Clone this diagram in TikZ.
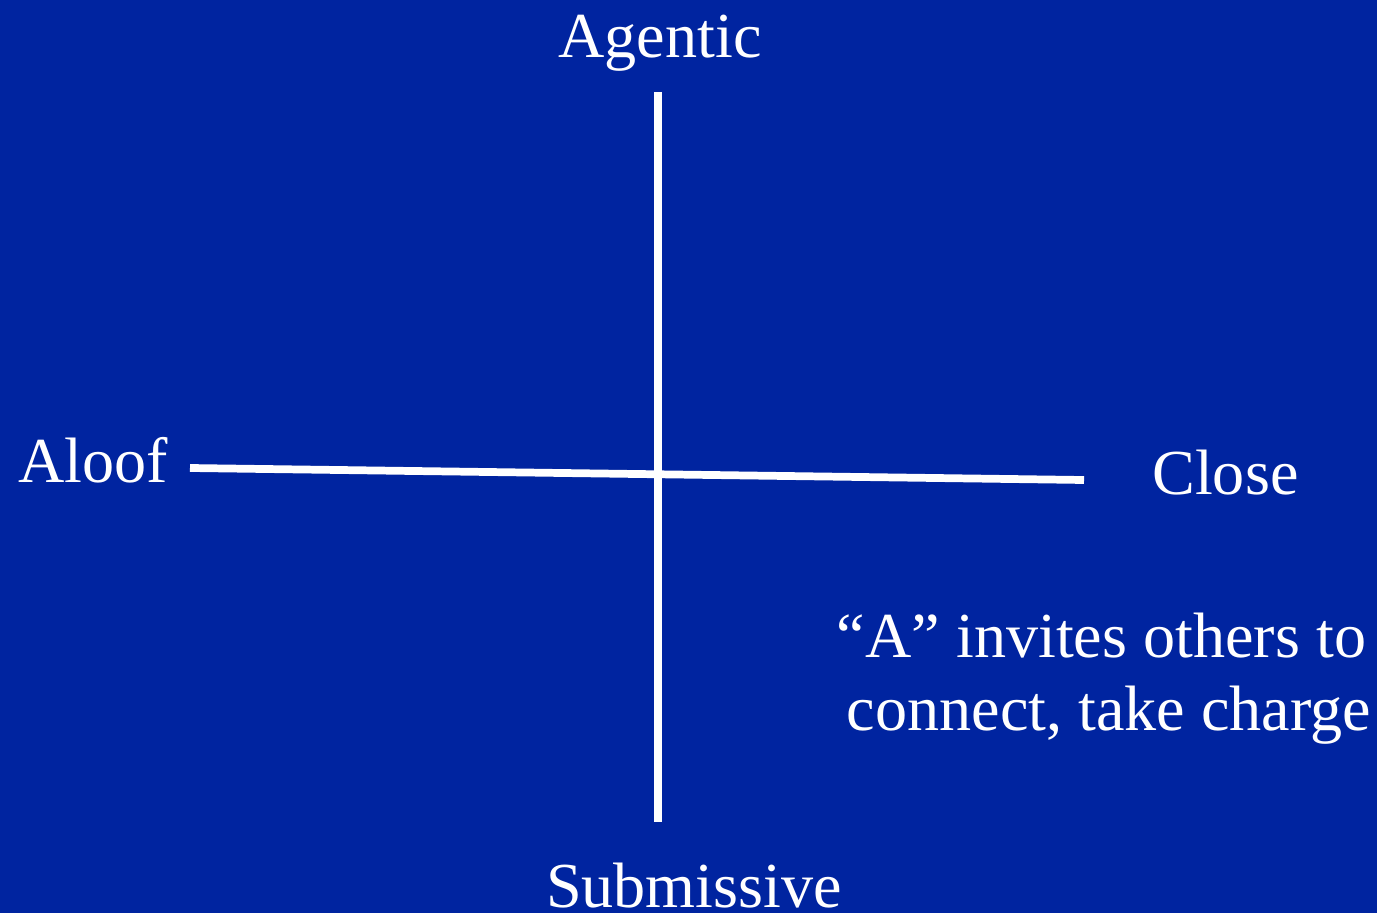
\documentclass[tikz,border=0pt]{standalone}
\usepackage{fontspec}
\setmainfont{Liberation Serif}
\usetikzlibrary{positioning}
\definecolor{slideblue}{RGB}{0,36,160}

\begin{document}
\begin{tikzpicture}[
  every node/.style={text=white, inner sep=0pt, font=\fontsize{36.5}{41.5}\selectfont},
  axis/.style={white, line width=4.4pt}
]
  % background, fixes the page size
  \fill[slideblue] (0,0) rectangle (27.54,18.26);

  % axes
  \coordinate (top)    at (13.16,16.42);
  \coordinate (bottom) at (13.16,1.82);
  \coordinate (left)   at (3.80,8.90);
  \coordinate (right)  at (21.68,8.66);
  \draw[axis] (top) -- (bottom);
  \draw[axis] (left) -- (right);

  % pole labels
  \node[anchor=base]       (agentic)    at (13.20,17.10) {Agentic};
  \node[anchor=base]       (submissive) at (13.88,0.12)  {Submissive};
  \node[anchor=base west]  (aloof)      at (0.36,8.62)   {Aloof};
  \node[anchor=base west]  (close)      at (23.04,8.38)  {Close};

  % quadrant note (base = last line)
  \node[anchor=base, align=center] (note) at (22.03,3.66)
    {“A” invites others to\\ \hspace*{0.3cm}connect, take charge};
\end{tikzpicture}
\end{document}
